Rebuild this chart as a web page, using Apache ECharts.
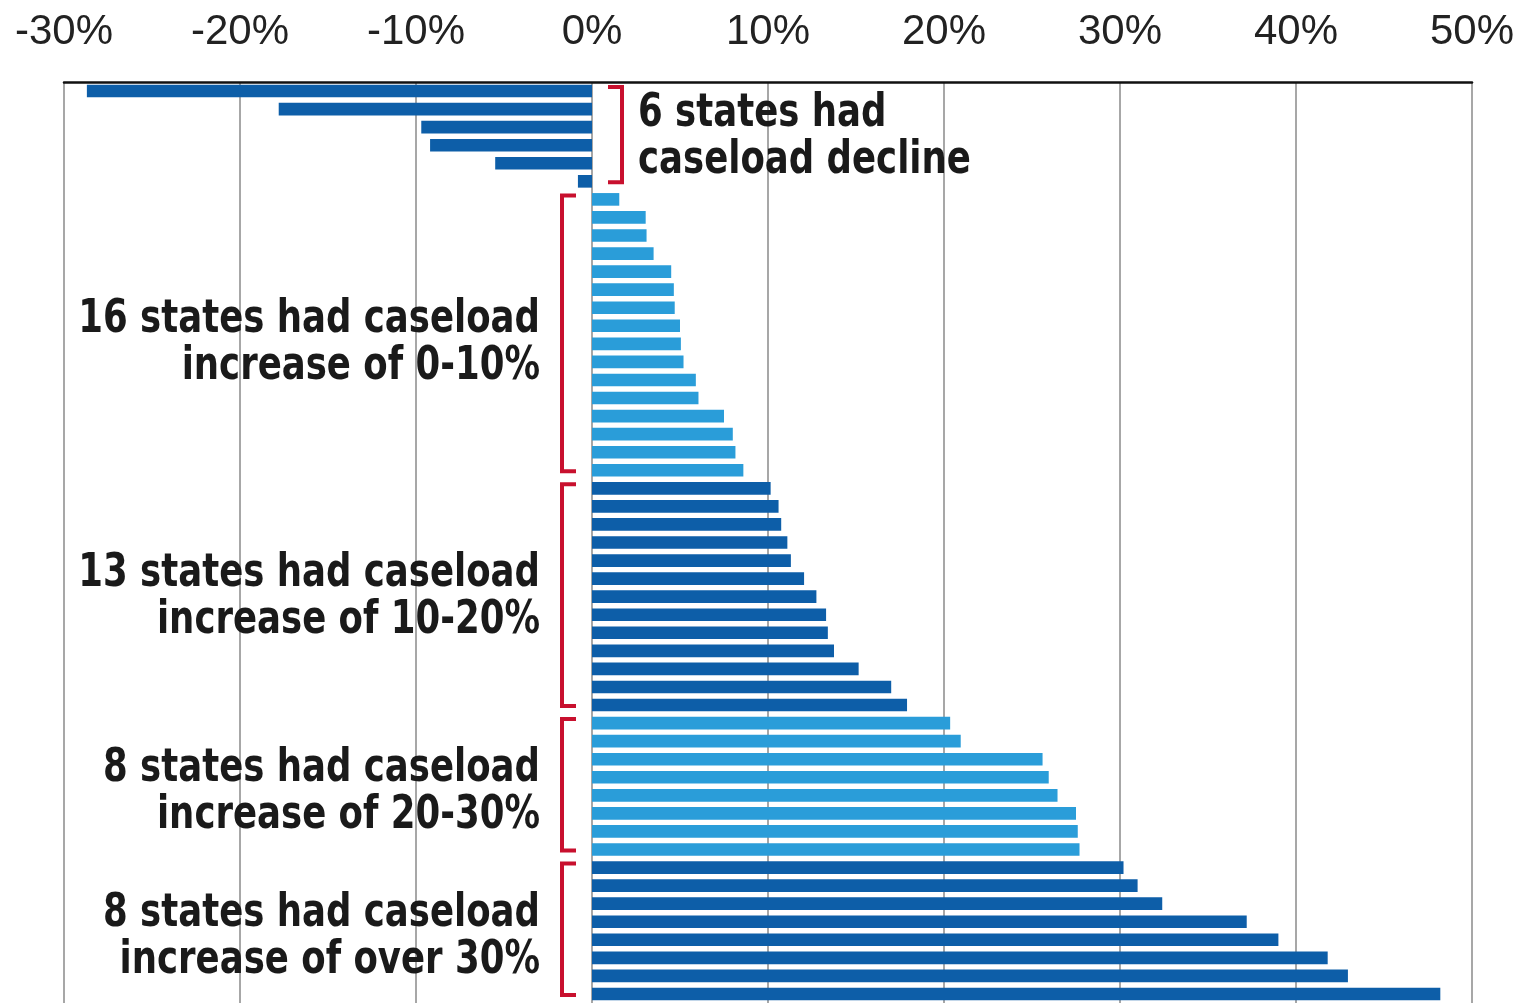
<!DOCTYPE html>
<html>
<head>
<meta charset="utf-8">
<title>Caseload change by state</title>
<script src="https://cdn.jsdelivr.net/npm/echarts@6/dist/echarts.min.js"></script>
<style>
  html, body { margin: 0; padding: 0; background: #fff; }
  #main { width: 1531px; height: 1003px; }
</style>
</head>
<body>
<div id="main"></div>
<script>
// percent change in caseload, one bar per state, sorted low -> high
var declineValues = [-28.7, -17.8, -9.7, -9.2, -5.5, -0.8];
var upTo10Values = [1.55, 3.05, 3.1, 3.5, 4.5, 4.65, 4.7, 5.0, 5.05, 5.2, 5.9, 6.05, 7.5, 8.0, 8.15, 8.6];
var upTo20Values = [10.15, 10.6, 10.75, 11.1, 11.3, 12.05, 12.75, 13.3, 13.4, 13.75, 15.15, 17.0, 17.9];
var upTo30Values = [20.35, 20.95, 25.6, 25.95, 26.45, 27.5, 27.6, 27.7];
var over30Values = [30.2, 31.0, 32.4, 37.2, 39.0, 41.8, 42.95, 48.2];

var groupLabels = [
  "6 states had\ncaseload decline",
  "16 states had caseload\nincrease of 0-10%",
  "13 states had caseload\nincrease of 10-20%",
  "8 states had caseload\nincrease of 20-30%",
  "8 states had caseload\nincrease of over 30%"
];
var xTicks = [-30, -20, -10, 0, 10, 20, 30, 40, 50];

var groups = [declineValues, upTo10Values, upTo20Values, upTo30Values, over30Values];
var groupColors = ["#0d5ea8", "#2a9dd9", "#0d5ea8", "#2a9dd9", "#0d5ea8"];
// small vertical nudge of each caption, in px
var labelShift = [3, 10, 2, 8, 8];

var categories = [];
var barData = [];
groups.forEach(function (g, gi) {
  g.forEach(function (v) {
    categories.push("state " + (categories.length + 1));
    barData.push({ value: v, itemStyle: { color: groupColors[gi] } });
  });
});

var chart = echarts.init(document.getElementById("main"));

var option = {
  backgroundColor: "#fff",
  animation: false,
  grid: { left: 64, right: 59, top: 82, height: 925 },
  xAxis: {
    type: "value",
    position: "top",
    min: xTicks[0],
    max: xTicks[xTicks.length - 1],
    interval: 10,
    axisLine: { show: true, lineStyle: { color: "#111", width: 2.5 } },
    axisTick: { show: false },
    axisLabel: {
      margin: 29,
      color: "#222",
      fontSize: 42,
      fontFamily: "Liberation Sans, Arial, sans-serif",
      formatter: "{value}%"
    },
    splitLine: { show: true, lineStyle: { color: "#8a8a8a", width: 1.5 } }
  },
  yAxis: {
    type: "category",
    inverse: true,
    data: categories,
    axisLine: { show: false },
    axisTick: { show: false },
    axisLabel: { show: false },
    splitLine: { show: false }
  },
  series: [
    {
      type: "bar",
      data: barData,
      barWidth: "70%"
    }
  ]
};
chart.setOption(option);

// red brackets + group captions, placed from the axes
function drawBrackets() {
  var els = [];
  var start = 0;
  groups.forEach(function (g, gi) {
    var first = start;
    var last = start + g.length - 1;
    start += g.length;
    var p1 = chart.convertToPixel({ gridIndex: 0 }, [0, first]);
    var p2 = chart.convertToPixel({ gridIndex: 0 }, [0, last]);
    var zeroX = p1[0];
    var top = p1[1] - 4;
    var bottom = p2[1] + 1;
    var onRight = gi === 0; // decline bracket sits right of zero
    var s = onRight ? 1 : -1;
    var lineX = zeroX + s * 30;
    var tipX = zeroX + s * 16;
    els.push({
      type: "polyline",
      shape: { points: [[tipX, top], [lineX, top], [lineX, bottom], [tipX, bottom]] },
      style: { stroke: "#c8102e", lineWidth: 4, fill: null }
    });
    els.push({
      type: "text",
      x: zeroX + s * (onRight ? 46 : 52),
      y: (top + bottom) / 2 + labelShift[gi],
      scaleX: 0.84,
      style: {
        text: groupLabels[gi],
        align: onRight ? "left" : "right",
        textAlign: onRight ? "left" : "right",
        verticalAlign: "middle",
        textVerticalAlign: "middle",
        font: 'bold 47px "DejaVu Sans Condensed", "DejaVu Sans", sans-serif',
        lineHeight: 47,
        fill: "#1a1a1a"
      }
    });
  });
  chart.setOption({ graphic: els });
}
drawBrackets();
</script>
</body>
</html>
